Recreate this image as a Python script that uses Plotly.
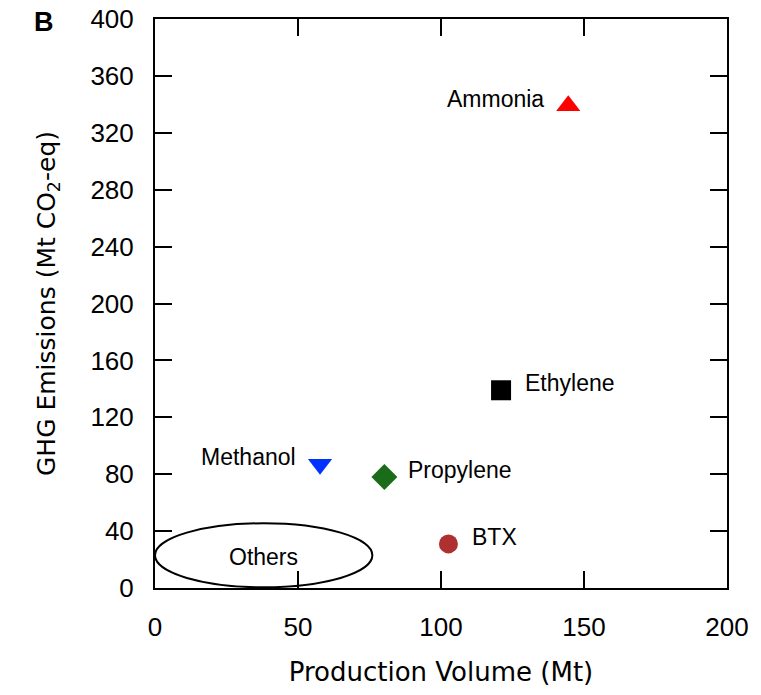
import plotly.graph_objects as go

chemicals = ["Ammonia", "Ethylene", "Methanol", "Propylene", "BTX"]
production_mt = [144.5, 121, 57.7, 80.2, 102.6]
ghg_mt = [339, 139, 87, 78, 31]
symbols = ["triangle-up", "square", "triangle-down", "diamond", "circle"]
colors = ["#ff0000", "#000000", "#0033ff", "#1a6b1a", "#b03030"]
marker_sizes = [21, 20, 21, 20, 19]
label_pos = ["left", "right", "left", "right", "right"]

others_x = [0, 76]
others_y = [0.5, 45.5]

x_ticks = [0, 50, 100, 150, 200]
y_ticks = [0, 40, 80, 120, 160, 200, 240, 280, 320, 360, 400]

label_font = dict(family="Liberation Sans, Arial", size=23, color="black")

fig = go.Figure()
for name, x, y, s, c, ms, lp in zip(chemicals, production_mt, ghg_mt, symbols, colors, marker_sizes, label_pos):
    fig.add_trace(go.Scatter(x=[x], y=[y], mode="markers",
                             marker=dict(symbol=s, color=c, size=ms, line=dict(width=0)),
                             showlegend=False, name=name))
    fig.add_annotation(x=x, y=y, text=name, showarrow=False,
                       xanchor="right" if lp == "left" else "left",
                       xshift=-22 if lp == "left" else 22, yshift=7,
                       font=label_font)

fig.add_shape(type="circle", xref="x", yref="y", x0=others_x[0], x1=others_x[1],
              y0=others_y[0], y1=others_y[1], line=dict(color="black", width=2))
fig.add_annotation(x=sum(others_x) / 2, y=sum(others_y) / 2, text="Others", showarrow=False,
                   yshift=-2, font=label_font)

fig.add_annotation(xref="paper", yref="paper", x=-0.194, y=0.995, text="<b>B</b>", showarrow=False,
                   xanchor="center", yanchor="middle",
                   font=dict(family="Liberation Sans, Arial", size=27, color="black"))

axis_common = dict(showline=True, linecolor="black", linewidth=2, mirror="ticks",
                   ticks="inside", ticklen=17, tickwidth=2, tickcolor="black",
                   showgrid=False, zeroline=False, automargin=False,
                   ticklabeloverflow="allow",
                   tickfont=dict(family="Liberation Sans, Arial", size=26, color="black"))

fig.update_xaxes(range=[0, 200], tickvals=x_ticks, ticklabelstandoff=15,
                 title=dict(text="Production Volume (Mt)", standoff=35,
                            font=dict(family="DejaVu Sans", size=26, color="black")),
                 **axis_common)
fig.update_yaxes(range=[0, 400], tickvals=y_ticks, ticklabelstandoff=14,
                 title=dict(text="GHG Emissions (Mt CO<sub>2</sub>-eq)", standoff=28,
                            font=dict(family="DejaVu Sans", size=25, color="black")),
                 **axis_common)

fig.update_layout(width=745, height=679, plot_bgcolor="white", paper_bgcolor="white",
                  margin=dict(l=147, r=26, t=11, b=99))

fig.write_html("out.html")
